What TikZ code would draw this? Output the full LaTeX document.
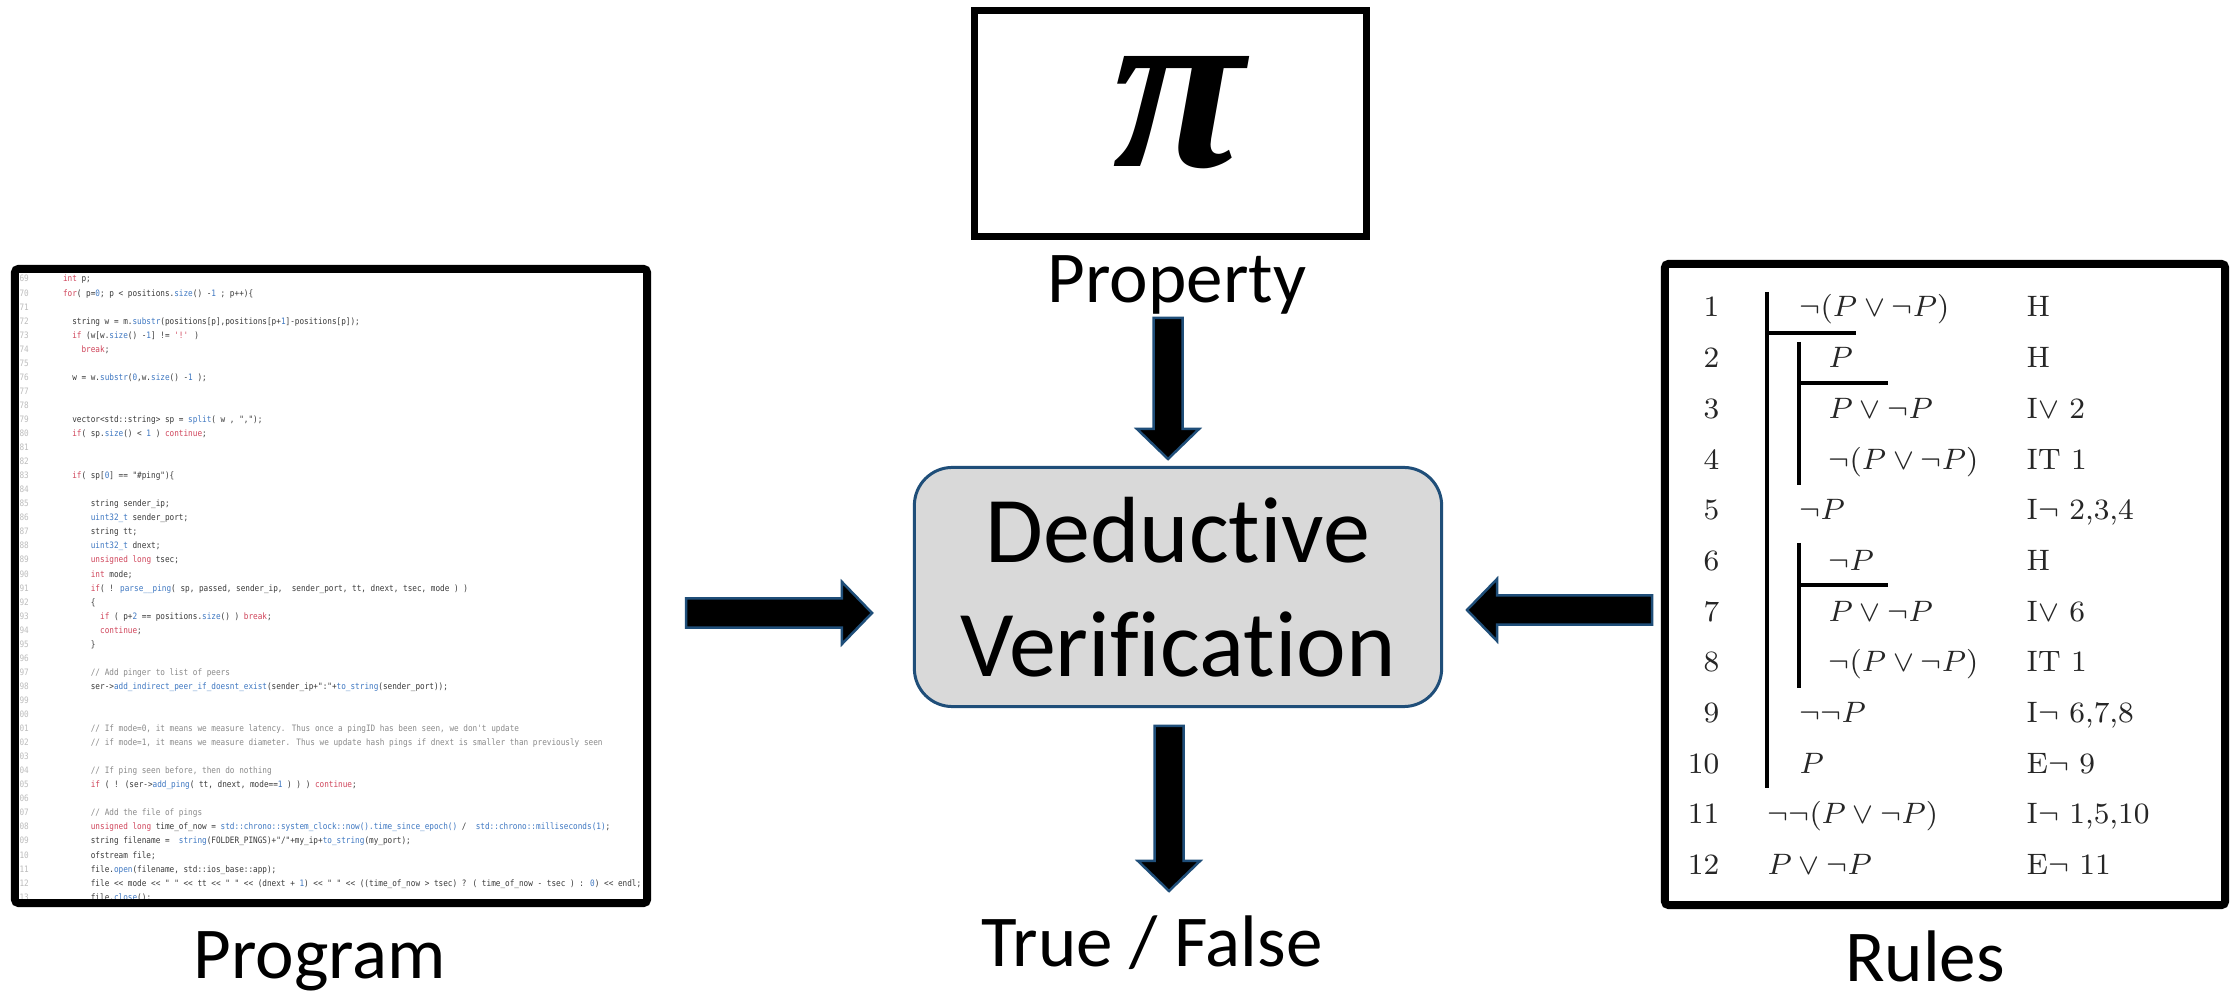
\RequirePackage{fix-cm}
\documentclass[tikz,border=0pt]{standalone}
\usepackage{fontspec}
\usepackage{graphicx}
\usetikzlibrary{calc}

\newfontfamily\labelfamily[Ligatures=NoCommon]{Carlito}
\newfontfamily\codefamily[FakeStretch=0.875]{DejaVu Sans Mono}
\newfontfamily\pifamily{Liberation Serif}

\definecolor{navyline}{HTML}{1F4E79}
\definecolor{boxgray}{HTML}{D9D9D9}
\definecolor{kwred}{HTML}{D0455B}
\definecolor{fnblue}{HTML}{3F78C2}
\definecolor{cmgray}{HTML}{8A8A8A}
\definecolor{codeink}{HTML}{3A3A3A}
\definecolor{linegray}{HTML}{BDBDBD}
\definecolor{proofink}{HTML}{262626}

% syntax colouring for the code listing
\newcommand\K[1]{\textcolor{kwred}{#1}}
\newcommand\F[1]{\textcolor{fnblue}{#1}}
\newcommand\Cm[1]{\textcolor{cmgray}{#1}}

% one line of the listing: #1 = line index from 0, #2 = indent column, #3 = text
\newcommand\cl[3]{\node[codeln] (cl#1) at ({62.3+#2*4.64},{282+#1*14.05}) {#3};}

% one row of the natural deduction proof: #1 = row, #2 = x of formula, #3 = formula, #4 = rule
\newcommand\prow[4]{%
  \node[pnum]  (pn#1) at (1720,{317+(#1-1)*50.7}) {#1};
  \node[ptext] (pf#1) at (#2,{317+(#1-1)*50.7}) {#3};
  \node[ptext] (pj#1) at (2026,{317+(#1-1)*50.7}) {#4};}

% thick block arrow from a tail point to a tip point
\newcommand\fatarrow[2]{%
  \coordinate (fa-h) at ($(#2)!0.3cm!(#1)$);
  \filldraw[blockarrow]
    ($(#1)!0.145cm!90:(#2)$) -- ($(fa-h)!0.145cm!90:(#2)$) -- ($(fa-h)!0.31cm!90:(#2)$)
    -- (#2) -- ($(fa-h)!0.31cm!-90:(#2)$) -- ($(fa-h)!0.145cm!-90:(#2)$)
    -- ($(#1)!0.145cm!-90:(#2)$) -- cycle;}

\begin{document}
\begin{tikzpicture}[x=0.01cm,y=-0.01cm,
  frame/.style={draw=black, line width=0.08cm, rounded corners=0.04cm, inner sep=0},
  lbl/.style={font=\labelfamily\fontsize{0.73cm}{0.88cm}\selectfont, anchor=base, inner sep=0},
  dvbox/.style={draw=navyline, fill=boxgray, line width=0.03cm, rounded corners=0.38cm,
    minimum width=5.27cm, minimum height=2.39cm, align=center,
    font=\labelfamily\fontsize{0.94cm}{1.14cm}\selectfont},
  blockarrow/.style={fill=black, draw=navyline, line width=0.025cm},
  codeln/.style={anchor=base west, inner sep=0, text=codeink,
    font=\codefamily\fontsize{0.088cm}{0.1cm}\selectfont},
  lnum/.style={anchor=base east, inner sep=0, text=linegray,
    font=\codefamily\fontsize{0.088cm}{0.1cm}\selectfont},
  pnum/.style={anchor=base east, inner sep=0, text=proofink},
  ptext/.style={anchor=base west, inner sep=0, text=proofink},
  pbar/.style={draw=black, line width=0.035cm}]

\fill[white] (0,0) rectangle (2233,992);
\useasboundingbox (0,0) rectangle (2233,992);

% ---------- property ----------
\node[draw=black, line width=0.07cm, minimum width=3.92cm, minimum height=2.26cm, inner sep=0]
  (propbox) at (1170.5,123.5) {};
\node[inner sep=0] (pi) at (1179,113) {\resizebox{1.32cm}{1.1cm}{\pifamily\bfseries\itshape π}};
\node[lbl] (prop) at (1177,303) {Property};

% ---------- verifier ----------
\node[dvbox] (dv) at (1178,587) {Deductive\\Verification};
\node[lbl] (out) at (1152,967) {True / False};

% ---------- program listing ----------
\begin{scope}
  \clip (19,273) rectangle (643,899);
  \foreach \n [count=\k from 0] in {69,...,113}
    \node[lnum] at (29.5,{282+\k*14.05}) {\n};
  \cl{0}{0}{\K{int} p;}
  \cl{1}{0}{\K{for}( p=\F{0}; p < positions.\F{size}() -\F{1} ; p++)\{}
  \cl{3}{2}{string w = m.\F{substr}(positions[p],positions[p+\F{1}]-positions[p]);}
  \cl{4}{2}{\K{if} (w[w.\F{size}() -\F{1}] != \K{'!'} )}
  \cl{5}{4}{\K{break};}
  \cl{7}{2}{w = w.\F{substr}(\F{0},w.\F{size}() -\F{1} );}
  \cl{10}{2}{vector<std::string> sp = \F{split}( w , ",");}
  \cl{11}{2}{\K{if}( sp.\F{size}() < \F{1} ) \K{continue};}
  \cl{14}{2}{\K{if}( sp[\F{0}] == "\#ping")\{}
  \cl{16}{6}{string sender\_ip;}
  \cl{17}{6}{\F{uint32\_t} sender\_port;}
  \cl{18}{6}{string tt;}
  \cl{19}{6}{\F{uint32\_t} dnext;}
  \cl{20}{6}{\K{unsigned} \K{long} tsec;}
  \cl{21}{6}{\K{int} mode;}
  \cl{22}{6}{\K{if}( ! \F{parse\_\_ping}( sp, passed, sender\_ip,~~sender\_port, tt, dnext, tsec, mode ) )}
  \cl{23}{6}{\{}
  \cl{24}{8}{\K{if} ( p+\F{2} == positions.\F{size}() ) \K{break};}
  \cl{25}{8}{\K{continue};}
  \cl{26}{6}{\}}
  \cl{28}{6}{\Cm{// Add pinger to list of peers}}
  \cl{29}{6}{ser->\F{add\_indirect\_peer\_if\_doesnt\_exist}(sender\_ip+":"+\F{to\_string}(sender\_port));}
  \cl{32}{6}{\Cm{// If mode=0, it means we measure latency. Thus once a pingID has been seen, we don't update}}
  \cl{33}{6}{\Cm{// if mode=1, it means we measure diameter. Thus we update hash pings if dnext is smaller than previously seen}}
  \cl{35}{6}{\Cm{// If ping seen before, then do nothing}}
  \cl{36}{6}{\K{if} ( ! (ser->\F{add\_ping}( tt, dnext, mode==\F{1} ) ) ) \K{continue};}
  \cl{38}{6}{\Cm{// Add the file of pings}}
  \cl{39}{6}{\K{unsigned} \K{long} time\_of\_now = \F{std::chrono::system\_clock::now().time\_since\_epoch()} /~~\F{std::chrono::milliseconds(1)};}
  \cl{40}{6}{string filename =~~\F{string}(FOLDER\_PINGS)+"/"+my\_ip+\F{to\_string}(my\_port);}
  \cl{41}{6}{ofstream file;}
  \cl{42}{6}{file.\F{open}(filename, std::ios\_base::app);}
  \cl{43}{6}{file << mode << " " << tt << " " << (dnext + \F{1}) << " " << ((time\_of\_now > tsec) ? ( time\_of\_now - tsec ) : \F{0}) << endl;}
  \cl{44}{6}{file.\F{close}();}
\end{scope}
\node[frame, minimum width=6.32cm, minimum height=6.34cm] (prog) at (331,586) {};
\node[lbl] (proglbl) at (320,979) {Program};

% ---------- proof rules ----------
\begin{scope}[font=\fontsize{0.295cm}{0.35cm}\selectfont]
  \prow{1}{1799}{$\neg(P\vee\neg P)$}{H}
  \prow{2}{1828}{$P$}{H}
  \prow{3}{1828}{$P\vee\neg P$}{I$\vee$ 2}
  \prow{4}{1828}{$\neg(P\vee\neg P)$}{IT 1}
  \prow{5}{1799}{$\neg P$}{I$\neg$ 2,3,4}
  \prow{6}{1828}{$\neg P$}{H}
  \prow{7}{1828}{$P\vee\neg P$}{I$\vee$ 6}
  \prow{8}{1828}{$\neg(P\vee\neg P)$}{IT 1}
  \prow{9}{1799}{$\neg\neg P$}{I$\neg$ 6,7,8}
  \prow{10}{1799}{$P$}{E$\neg$ 9}
  \prow{11}{1767}{$\neg\neg(P\vee\neg P)$}{I$\neg$ 1,5,10}
  \prow{12}{1767}{$P\vee\neg P$}{E$\neg$ 11}
\end{scope}
\draw[pbar] (1767,292) -- (1767,788);
\draw[pbar] (1767,333) -- (1856,333);
\draw[pbar] (1799,342) -- (1799,485);
\draw[pbar] (1799,383) -- (1888,383);
\draw[pbar] (1799,543) -- (1799,688);
\draw[pbar] (1799,585) -- (1888,585);
\node[frame, minimum width=5.6cm, minimum height=6.41cm] (rules) at (1945,584.5) {};
\node[lbl] (ruleslbl) at (1925,982) {Rules};

% ---------- block arrows ----------
\coordinate (pa-t) at (1168,318);  \coordinate (pa-h) at (1168,459);
\coordinate (la-t) at (686,613);   \coordinate (la-h) at (872,613);
\coordinate (ra-t) at (1652,610);  \coordinate (ra-h) at (1467,610);
\coordinate (oa-t) at (1169,726);  \coordinate (oa-h) at (1169,891);
\fatarrow{pa-t}{pa-h}
\fatarrow{la-t}{la-h}
\fatarrow{ra-t}{ra-h}
\fatarrow{oa-t}{oa-h}
\end{tikzpicture}
\end{document}
